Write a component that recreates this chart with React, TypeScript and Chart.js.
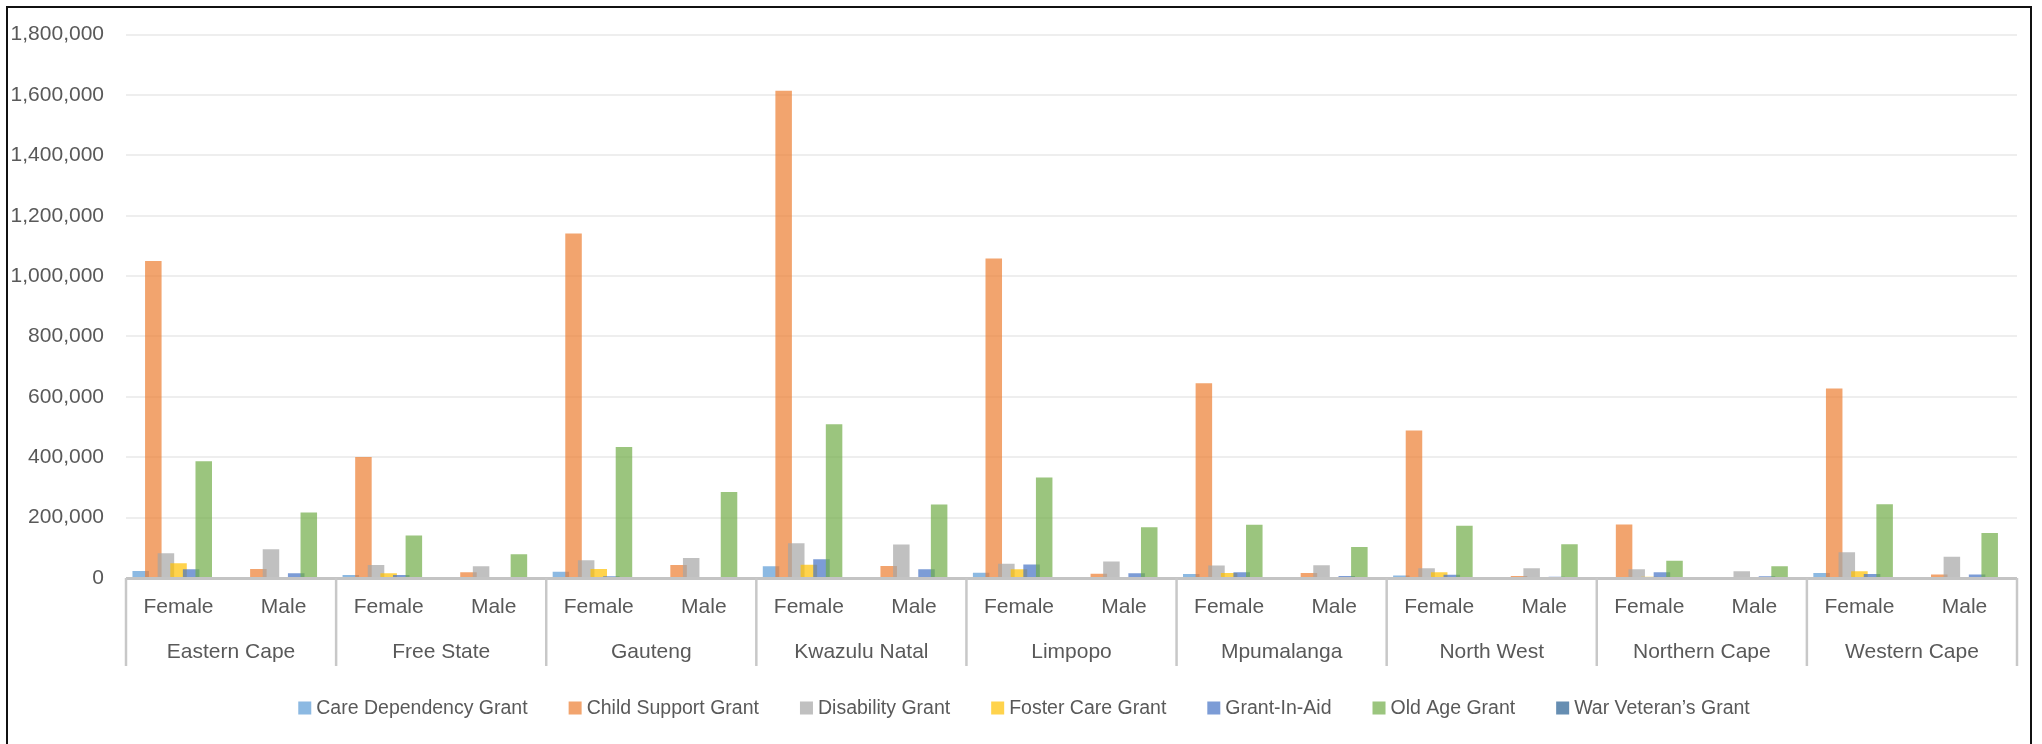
import React, { useEffect, useRef } from 'react';
import { Chart, registerables } from 'chart.js';

Chart.register(...registerables);

const provinces = [
  'Eastern Cape', 'Free State', 'Gauteng', 'Kwazulu Natal', 'Limpopo',
  'Mpumalanga', 'North West', 'Northern Cape', 'Western Cape',
];
const genders = ['Female', 'Male'];
const seriesNames = [
  'Care Dependency Grant', 'Child Support Grant', 'Disability Grant',
  'Foster Care Grant', 'Grant-In-Aid', 'Old Age Grant', 'War Veteran\u2019s Grant',
];
const seriesColors = [
  'rgba(91,155,213,0.7)', 'rgba(237,125,49,0.7)', 'rgba(165,165,165,0.7)',
  'rgba(255,192,0,0.7)', 'rgba(68,114,196,0.7)', 'rgba(112,173,71,0.7)',
  'rgba(37,94,145,0.7)',
];

// values per category: EC F, EC M, FS F, FS M, GP F, GP M, KZN F, KZN M, LP F, LP M,
// MP F, MP M, NW F, NW M, NC F, NC M, WC F, WC M
const careDependency = [23000, 400, 10000, 200, 21000, 300, 39000, 400, 17500, 300, 13000, 200, 8000, 200, 3000, 100, 16500, 300];
const childSupport = [1050000, 30000, 401000, 19000, 1141000, 43000, 1614000, 40000, 1058000, 14000, 645000, 16500, 489000, 7000, 177500, 2000, 628000, 12000];
const disability = [82000, 95000, 43000, 39000, 58500, 66000, 115000, 111000, 47000, 55000, 41000, 42000, 32000, 32000, 29000, 22000, 85000, 70000];
const fosterCare = [48500, 1000, 15500, 500, 30000, 1000, 44000, 1500, 29000, 800, 16500, 500, 18800, 500, 4000, 200, 22000, 1000];
const grantInAid = [29000, 15500, 10000, 2000, 6000, 3000, 62000, 29000, 45000, 15500, 18800, 7000, 11000, 4000, 18800, 6000, 13000, 12000];
const oldAge = [387000, 217000, 141000, 78500, 434000, 285000, 509000, 243500, 333000, 168500, 176000, 102500, 173000, 112000, 57000, 38700, 244500, 149000];
const warVeteran = [150, 60, 30, 10, 60, 30, 80, 30, 40, 20, 30, 10, 20, 10, 10, 5, 60, 20];

const yMin = 0;
const yMax = 1800000;
const yStep = 200000;

const categories = provinces.flatMap((p) => genders.map((g) => g));
const seriesValues = [careDependency, childSupport, disability, fosterCare, grantInAid, oldAge, warVeteran];

const FONT = "'Liberation Sans', Arial, Helvetica, sans-serif";
const TEXT = '#595959';

const drawOrderPlugin = {
  id: 'drawOrder',
  beforeDatasetsDraw(chart: any) {
    const metas = chart.getSortedVisibleDatasetMetas();
    const ctx = chart.ctx;
    const a = chart.chartArea;
    for (let i = 0; i < metas.length; i++) {
      ctx.save();
      ctx.beginPath();
      ctx.rect(a.left, a.top, a.right - a.left, a.bottom - a.top);
      ctx.clip();
      metas[i].controller.draw();
      ctx.restore();
    }
    return false;
  },
};

const decorPlugin = {
  id: 'decor',
  afterDraw(chart: any) {
    const ctx = chart.ctx;
    const a = chart.chartArea;
    const x = chart.scales.x;
    const cat = x.getPixelForValue(1) - x.getPixelForValue(0);

    ctx.save();
    // axis line
    ctx.strokeStyle = '#C4C4C4';
    ctx.lineWidth = 3;
    ctx.beginPath();
    ctx.moveTo(a.left, a.bottom + 0.5);
    ctx.lineTo(a.right, a.bottom + 0.5);
    ctx.stroke();

    // province separators & labels
    ctx.lineWidth = 2.5;
    ctx.strokeStyle = '#C8C8C8';
    for (let p = 0; p <= provinces.length; p++) {
      const bx = x.getPixelForValue(p * 2) - cat / 2;
      ctx.beginPath();
      ctx.moveTo(bx, a.bottom);
      ctx.lineTo(bx, 666);
      ctx.stroke();
    }
    ctx.fillStyle = TEXT;
    ctx.font = `21px ${FONT}`;
    ctx.textAlign = 'center';
    ctx.textBaseline = 'middle';
    provinces.forEach((p, i) => {
      const cx = (x.getPixelForValue(i * 2) + x.getPixelForValue(i * 2 + 1)) / 2;
      ctx.fillText(p, cx, 652);
    });

    // legend
    ctx.font = `19.5px ${FONT}`;
    const box = 13;
    const gap = 5;
    const itemGap = 41;
    const widths = seriesNames.map((n) => ctx.measureText(n).width);
    const total = widths.reduce((s, w) => s + box + gap + w, 0) + itemGap * (seriesNames.length - 1);
    let lx = chart.width / 2 + 3 - total / 2;
    const ly = 708;
    ctx.textAlign = 'left';
    seriesNames.forEach((n, i) => {
      ctx.fillStyle = seriesColors[i];
      ctx.fillRect(lx, ly - box / 2, box, box);
      ctx.fillStyle = TEXT;
      ctx.fillText(n, lx + box + gap, ly + 1);
      lx += box + gap + widths[i] + itemGap;
    });

    // frame
    ctx.strokeStyle = '#111111';
    ctx.lineWidth = 2;
    ctx.strokeRect(7, 7, 2024, 800);
    ctx.restore();
  },
};

export default function App() {
  const ref = useRef<HTMLCanvasElement | null>(null);

  useEffect(() => {
    const canvas = ref.current;
    if (!canvas) return;
    const chart = new Chart(canvas, {
      type: 'bar',
      data: {
        labels: categories,
        datasets: seriesNames.map((name, i) => ({
          label: name,
          data: seriesValues[i],
          backgroundColor: seriesColors[i],
          borderWidth: 0,
          categoryPercentage: 0.84,
          barPercentage: 1.31,
        })),
      },
      options: {
        animation: false,
        responsive: false,
        maintainAspectRatio: false,
        devicePixelRatio: 1,
        layout: { padding: { left: 0, top: 33, right: 25, bottom: 0 } },
        plugins: {
          legend: { display: false },
          tooltip: { enabled: false },
          title: { display: false },
        },
        scales: {
          x: {
            type: 'category',
            grid: { display: false, drawTicks: false },
            border: { display: false },
            ticks: {
              color: TEXT,
              font: { family: FONT, size: 21 },
              padding: 17,
              maxRotation: 0,
              autoSkip: false,
            },
            afterFit: (s: any) => { s.height = 166; },
          },
          y: {
            min: yMin,
            max: yMax,
            grid: { color: '#EEEEEE', lineWidth: 2, drawTicks: false },
            border: { display: false },
            ticks: {
              stepSize: yStep,
              color: TEXT,
              font: { family: FONT, size: 21 },
              padding: 22,
              callback: (v: any) => Number(v).toLocaleString('en-US'),
            },
            afterFit: (s: any) => { s.width = 126; },
          },
        },
      },
      plugins: [drawOrderPlugin, decorPlugin],
    });
    return () => chart.destroy();
  }, []);

  return (
    <div style={{ position: 'absolute', left: 0, top: 0, width: 2042, height: 744, background: '#ffffff' }}>
      <canvas ref={ref} width={2042} height={744} style={{ display: 'block', width: 2042, height: 744 }} />
    </div>
  );
}
